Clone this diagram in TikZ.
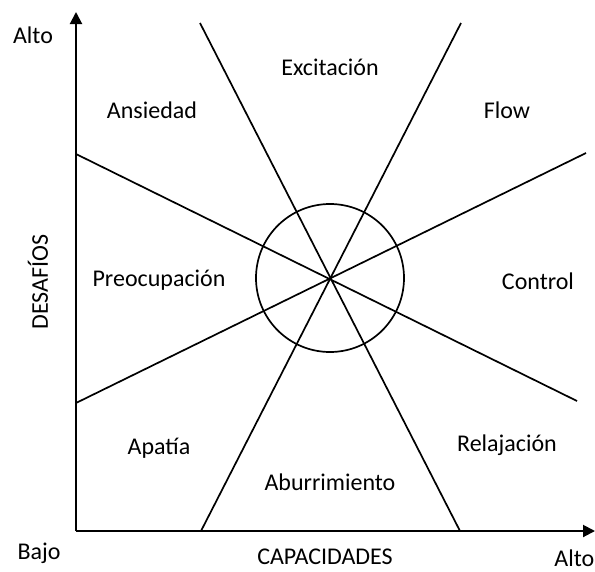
\documentclass[tikz,border=0pt]{standalone}
\usepackage{fontspec}
\setmainfont{Carlito}
\usetikzlibrary{arrows.meta}
\begin{document}
\begin{tikzpicture}[x=1pt,y=-1pt,
  lbl/.style={font=\fontsize{24}{28}\selectfont, inner sep=0pt},
  axis/.style={line width=2pt, -{Triangle[width=12pt,length=12pt]}},
  ray/.style={line width=1.7pt}]
\useasboundingbox (0,0) rectangle (595,571);
\coordinate (O) at (76,531);
\coordinate (ytop) at (76,12);
\coordinate (xend) at (595,531);
\coordinate (c) at (330,278);
\coordinate (a1) at (200,23);  \coordinate (a2) at (460,531);
\coordinate (b1) at (461,23);  \coordinate (b2) at (201,531);
\coordinate (c1) at (76,154);  \coordinate (c2) at (577,401);
\coordinate (d1) at (76,403);  \coordinate (d2) at (586,153);
\draw[ray] (a1) -- (a2);
\draw[ray] (b1) -- (b2);
\draw[ray] (c1) -- (c2);
\draw[ray] (d1) -- (d2);
\draw[ray] (c) circle[radius=74];
\draw[axis] (O) -- (ytop);
\draw[axis] (O) -- (xend);
\node[lbl] (altoy) at (33,35) {Alto};
\node[lbl] (bajo) at (39,553) {Bajo};
\node[lbl, anchor=east] (altox) at (594.5,558) {Alto};
\node[lbl] (cap) at (325,557) {CAPACIDADES};
\node[lbl, rotate=90] (des) at (38,282) {DESAFÍOS};
\node[lbl] (ans) at (152,110) {Ansiedad};
\node[lbl] (exc) at (330,67) {Excitación};
\node[lbl] (flow) at (507,110) {Flow};
\node[lbl] (pre) at (159,280) {Preocupación};
\node[lbl] (ctl) at (538,281) {Control};
\node[lbl] (apa) at (159,448) {Apatía};
\node[lbl] (abu) at (330,482) {Aburrimiento};
\node[lbl] (rel) at (507,445) {Relajación};
\end{tikzpicture}
\end{document}
